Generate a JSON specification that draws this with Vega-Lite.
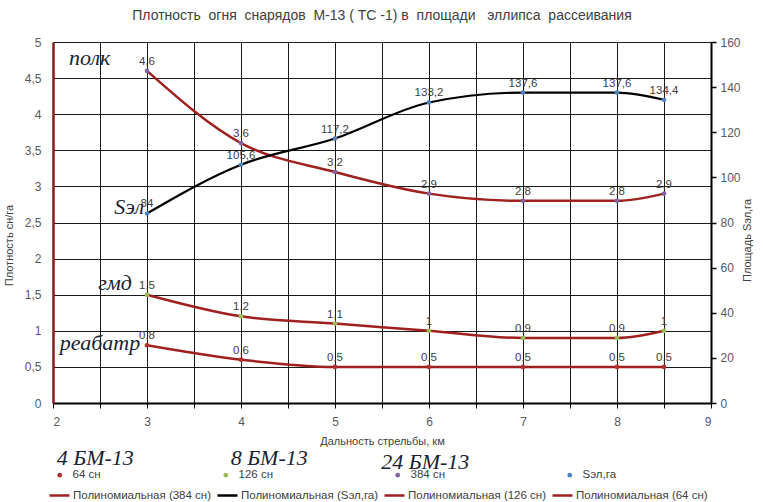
{
  "$schema": "https://vega.github.io/schema/vega-lite/v6.json",
  "width": 658,
  "height": 361,
  "autosize": "none",
  "padding": {"left": 53, "top": 42, "right": 52, "bottom": 99},
  "background": "white",
  "config": {
    "locale": {"number": {"decimal": ",", "thousands": " ", "grouping": [3], "currency": ["", ""]}},
    "view": {"stroke": null},
    "font": "Liberation Sans",
    "axis": {"labelFont": "Liberation Sans", "titleFont": "Liberation Sans", "labelColor": "#595959", "titleColor": "#404040", "titleFontWeight": "normal", "labelFontSize": 12, "titleFontSize": 11, "labelOverlap": false},
    "legend": {"labelFont": "Liberation Sans", "labelFontSize": 11.5, "labelColor": "#404040"}
  },
  "title": {
    "text": "Плотность\u00a0\u00a0огня\u00a0\u00a0снарядов\u00a0\u00a0М-13\u00a0(\u00a0ТС\u00a0-1)\u00a0в\u00a0\u00a0площади\u00a0\u00a0\u00a0эллипса\u00a0\u00a0рассеивания",
    "anchor": "middle",
    "font": "Liberation Sans",
    "fontSize": 14,
    "fontWeight": "normal",
    "color": "#404040",
    "offset": 13
  },
  "datasets": {
    "dens": [
      {"x": 3, "v": 0.8, "s": "64 сн", "t": "Полиномиальная (64 сн)"},
      {"x": 4, "v": 0.6, "s": "64 сн", "t": "Полиномиальная (64 сн)"},
      {"x": 5, "v": 0.5, "s": "64 сн", "t": "Полиномиальная (64 сн)"},
      {"x": 6, "v": 0.5, "s": "64 сн", "t": "Полиномиальная (64 сн)"},
      {"x": 7, "v": 0.5, "s": "64 сн", "t": "Полиномиальная (64 сн)"},
      {"x": 8, "v": 0.5, "s": "64 сн", "t": "Полиномиальная (64 сн)"},
      {"x": 8.5, "v": 0.5, "s": "64 сн", "t": "Полиномиальная (64 сн)"},
      {"x": 3, "v": 1.5, "s": "126 сн", "t": "Полиномиальная (126 сн)"},
      {"x": 4, "v": 1.2, "s": "126 сн", "t": "Полиномиальная (126 сн)"},
      {"x": 5, "v": 1.1, "s": "126 сн", "t": "Полиномиальная (126 сн)"},
      {"x": 6, "v": 1.0, "s": "126 сн", "t": "Полиномиальная (126 сн)"},
      {"x": 7, "v": 0.9, "s": "126 сн", "t": "Полиномиальная (126 сн)"},
      {"x": 8, "v": 0.9, "s": "126 сн", "t": "Полиномиальная (126 сн)"},
      {"x": 8.5, "v": 1.0, "s": "126 сн", "t": "Полиномиальная (126 сн)"},
      {"x": 3, "v": 4.6, "s": "384 сн", "t": "Полиномиальная (384 сн)"},
      {"x": 4, "v": 3.6, "s": "384 сн", "t": "Полиномиальная (384 сн)"},
      {"x": 5, "v": 3.2, "s": "384 сн", "t": "Полиномиальная (384 сн)"},
      {"x": 6, "v": 2.9, "s": "384 сн", "t": "Полиномиальная (384 сн)"},
      {"x": 7, "v": 2.8, "s": "384 сн", "t": "Полиномиальная (384 сн)"},
      {"x": 8, "v": 2.8, "s": "384 сн", "t": "Полиномиальная (384 сн)"},
      {"x": 8.5, "v": 2.9, "s": "384 сн", "t": "Полиномиальная (384 сн)"}
    ],
    "sel": [
      {"x": 3, "v": 84, "s": "Sэл,га", "t": "Полиномиальная (Sэл,га)"},
      {"x": 4, "v": 105.6, "s": "Sэл,га", "t": "Полиномиальная (Sэл,га)"},
      {"x": 5, "v": 117.2, "s": "Sэл,га", "t": "Полиномиальная (Sэл,га)"},
      {"x": 6, "v": 133.2, "s": "Sэл,га", "t": "Полиномиальная (Sэл,га)"},
      {"x": 7, "v": 137.6, "s": "Sэл,га", "t": "Полиномиальная (Sэл,га)"},
      {"x": 8, "v": 137.6, "s": "Sэл,га", "t": "Полиномиальная (Sэл,га)"},
      {"x": 8.5, "v": 134.4, "s": "Sэл,га", "t": "Полиномиальная (Sэл,га)"}
    ],
    "notes": [
      {"x": 2.39, "v": 4.78, "label": "полк"},
      {"x": 2.81, "v": 2.71, "label": "Sэл"},
      {"x": 2.66, "v": 1.66, "label": "гмд"},
      {"x": 2.5, "v": 0.83, "label": "реабатр"},
      {"x": 2.45, "v": -0.76, "label": "4 БМ-13"},
      {"x": 4.3, "v": -0.76, "label": "8 БМ-13"},
      {"x": 5.96, "v": -0.82, "label": "24 БМ-13"}
    ]
  },
  "encoding": {
    "x": {"field": "x", "type": "quantitative", "title": "Дальность стрельбы, км",
      "scale": {"domain": [2, 9], "nice": false},
      "axis": {"tickCount": 14, "format": "~g",
        "labelExpr": "datum.value % 1 === 0 ? datum.label : ''",
        "grid": true, "gridColor": "#1a1a1a", "gridWidth": 1,
        "domainColor": "#000", "domainWidth": 1.8, "tickColor": "#000", "tickSize": 5,
        "labelPadding": 8, "titlePadding": 8}}
  },
  "layer": [
    {
      "data": {"name": "dens"},
      "encoding": {
        "y": {"field": "v", "type": "quantitative", "title": "Плотность сн/га",
          "scale": {"domain": [0, 5], "nice": false},
          "axis": {"tickCount": 10, "format": "~g",
            "grid": true, "gridColor": "#1a1a1a", "gridWidth": 1,
            "domainColor": "#8B1A1A", "domainWidth": 2.5, "tickSize": 0, "labelPadding": 12, "titlePadding": 10, "titleY": 203}}
      },
      "layer": [
        {
          "mark": {"type": "line", "interpolate": "monotone", "strokeWidth": 2.5},
          "encoding": {
            "stroke": {"field": "t", "type": "nominal",
              "scale": {"domain": ["Полиномиальная (384 сн)", "Полиномиальная (Sэл,га)", "Полиномиальная (126 сн)", "Полиномиальная (64 сн)"],
                "range": ["#A0201F", "#000000", "#A0201F", "#A0201F"]},
              "legend": {"orient": "none", "legendX": -5, "legendY": 442, "direction": "horizontal", "columns": 4, "title": null,
                "symbolType": "stroke", "symbolSize": 400, "symbolStrokeWidth": 2.5, "symbolOffset": 0, "labelOffset": 2, "columnPadding": 0, "labelLimit": 300}}
          }
        },
        {
          "mark": {"type": "point", "filled": true, "size": 22, "opacity": 1},
          "encoding": {
            "fill": {"field": "s", "type": "nominal",
              "scale": {"domain": ["64 сн", "126 сн", "384 сн", "Sэл,га"], "range": ["#B03030", "#9BBB59", "#8064A2", "#4F81BD"]},
              "legend": {"orient": "none", "legendX": 1, "legendY": 427, "direction": "horizontal", "columns": 4, "title": null,
                "symbolType": "circle", "symbolSize": 22, "columnPadding": 119, "labelOffset": 7}}
          }
        },
        {
          "mark": {"type": "text", "baseline": "bottom", "dy": -4, "font": "Liberation Sans", "fontSize": 11.5, "color": "#404040"},
          "encoding": {
            "text": {"field": "v", "type": "quantitative", "format": ".1~f"}
          }
        },
        {
          "data": {"name": "notes"},
          "mark": {"type": "text", "font": "Liberation Serif", "fontStyle": "italic", "fontSize": 22, "color": "#1a1f33", "baseline": "middle", "align": "center"},
          "encoding": {
            "text": {"field": "label", "type": "nominal"}
          }
        }
      ]
    },
    {
      "data": {"name": "sel"},
      "encoding": {
        "y": {"field": "v", "type": "quantitative", "title": "Площадь Sэл,га",
          "scale": {"domain": [0, 160], "nice": false},
          "axis": {"orient": "right", "tickCount": 8, "format": "d", "grid": false,
            "domainColor": "#000", "domainWidth": 2, "tickColor": "#000", "tickSize": 5, "tickWidth": 1.5,
            "labelPadding": 4, "titlePadding": 12, "titleAngle": 270, "titleBaseline": "bottom", "titleY": 198}}
      },
      "layer": [
        {
          "mark": {"type": "line", "interpolate": "monotone", "strokeWidth": 2.2},
          "encoding": {
            "stroke": {"field": "t", "type": "nominal"}
          }
        },
        {
          "mark": {"type": "point", "filled": true, "size": 22, "opacity": 1},
          "encoding": {
            "fill": {"field": "s", "type": "nominal"}
          }
        },
        {
          "mark": {"type": "text", "baseline": "bottom", "dy": -4, "font": "Liberation Sans", "fontSize": 11.5, "color": "#404040"},
          "encoding": {
            "text": {"field": "v", "type": "quantitative", "format": ".1~f"}
          }
        }
      ]
    }
  ],
  "resolve": {"scale": {"y": "independent"}}
}
